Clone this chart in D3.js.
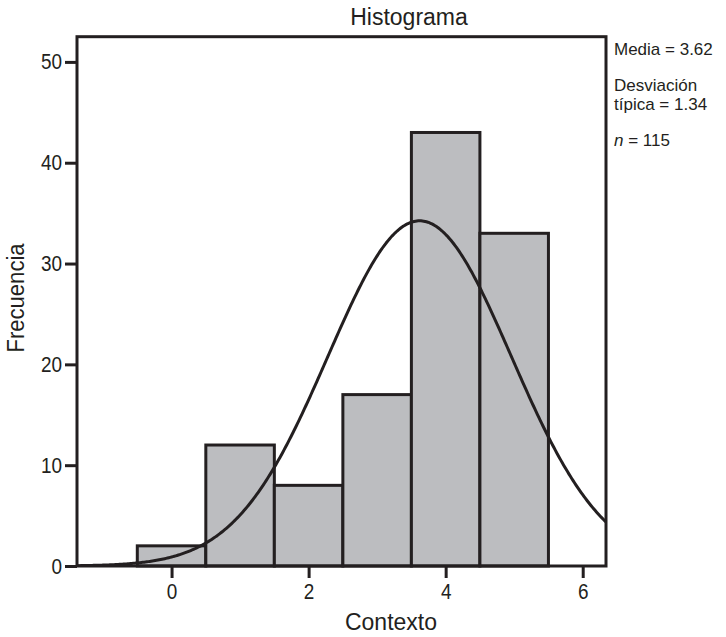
<!DOCTYPE html>
<html>

<head>
    <title>Histograma</title>
    <meta charset="utf-8">
    <style>
        body { margin: 0; background: #fff; }
        .cond { font-family: "Liberation Sans", Arial, sans-serif; fill: #231f20; }
        .stat { font-family: "Liberation Sans", Arial, sans-serif; font-size: 17px; fill: #231f20; }
    </style>
</head>
<script src="https://d3js.org/d3.v7.min.js"></script>

<body>
    <div id="chart"></div>
    <script>
        // Histogram bins (centre value) and counts
        const binCentres = [0, 1, 2, 3, 4, 5];
        const counts = [2, 12, 8, 17, 43, 33];
        const xTicks = [0, 2, 4, 6];
        const yTicks = [0, 10, 20, 30, 40, 50];

        // stats printed on the right, also used for the fitted normal curve
        const media = 3.62;
        const desviacion = 1.34;
        const n = 115;
        const binWidth = 1;

        const W = 726, H = 637;
        const plotL = 77, plotR = 606, plotT = 36.7, plotB = 566;
        const ink = "#231f20";

        const svg = d3.select("#chart").append("svg")
            .attr("width", W)
            .attr("height", H);

        const x = d3.scaleLinear().domain([-1.38, 6.34]).range([plotL, plotR]);
        const y = d3.scaleLinear().domain([0, 52.5]).range([plotB, plotT]);

        // squeeze text horizontally a bit (reference font is a condensed face)
        function condense(sel, f) {
            sel.each(function () {
                const len = this.getComputedTextLength();
                d3.select(this)
                    .attr("textLength", len * f)
                    .attr("lengthAdjust", "spacingAndGlyphs");
            });
        }

        // bars
        svg.append("g")
            .selectAll("rect")
            .data(binCentres)
            .join("rect")
            .attr("x", (d) => x(d - binWidth / 2))
            .attr("width", (d) => x(d + binWidth / 2) - x(d - binWidth / 2))
            .attr("y", (d, i) => y(counts[i]))
            .attr("height", (d, i) => plotB - y(counts[i]))
            .attr("fill", "#bcbdc0")
            .attr("stroke", ink)
            .attr("stroke-width", 3);

        // fitted normal curve
        svg.append("clipPath").attr("id", "clip")
            .append("rect")
            .attr("x", plotL).attr("y", plotT)
            .attr("width", plotR - plotL).attr("height", plotB - plotT);

        const xs = d3.range(x.domain()[0], x.domain()[1] + 0.02, 0.02);
        const normal = (v) => n * binWidth / (desviacion * Math.sqrt(2 * Math.PI)) *
            Math.exp(-0.5 * Math.pow((v - media) / desviacion, 2));

        svg.append("path")
            .datum(xs)
            .attr("clip-path", "url(#clip)")
            .attr("fill", "none")
            .attr("stroke", ink)
            .attr("stroke-width", 3)
            .attr("d", d3.line().x((d) => x(d)).y((d) => y(normal(d))));

        // frame
        svg.append("rect")
            .attr("x", plotL).attr("y", plotT)
            .attr("width", plotR - plotL).attr("height", plotB - plotT)
            .attr("fill", "none")
            .attr("stroke", ink)
            .attr("stroke-width", 3);

        // axes
        const yAxis = svg.append("g")
            .attr("transform", "translate(" + plotL + ",0)")
            .call(d3.axisLeft(y).tickValues(yTicks).tickSize(12).tickPadding(3).tickFormat(d3.format("d")));
        const xAxis = svg.append("g")
            .attr("transform", "translate(0," + plotB + ")")
            .call(d3.axisBottom(x).tickValues(xTicks).tickSize(12).tickPadding(5).tickFormat(d3.format("d")));

        [yAxis, xAxis].forEach(function (g) {
            g.select(".domain").remove();
            g.selectAll("line").attr("stroke", ink).attr("stroke-width", 3);
            g.selectAll("text")
                .attr("class", "cond")
                .style("font-size", "22px")
                .call(condense, 0.86);
        });

        // titles
        svg.append("text")
            .attr("class", "cond")
            .attr("x", 409).attr("y", 25)
            .attr("text-anchor", "middle")
            .style("font-size", "23px")
            .text("Histograma");

        svg.append("text")
            .attr("class", "cond")
            .attr("x", 391).attr("y", 630)
            .attr("text-anchor", "middle")
            .style("font-size", "23px")
            .text("Contexto");

        svg.append("text")
            .attr("class", "cond")
            .attr("transform", "translate(24,298)rotate(-90)")
            .attr("text-anchor", "middle")
            .style("font-size", "23px")
            .text("Frecuencia")
            .call(condense, 0.96);

        // stats box
        const sx = 614;
        svg.append("text").attr("class", "stat").attr("x", sx).attr("y", 55)
            .text("Media = " + media.toFixed(2));
        svg.append("text").attr("class", "stat").attr("x", sx).attr("y", 90.5)
            .text("Desviación");
        svg.append("text").attr("class", "stat").attr("x", sx).attr("y", 110)
            .text("típica = " + desviacion.toFixed(2));
        const nt = svg.append("text").attr("class", "stat").attr("x", sx).attr("y", 146);
        nt.append("tspan").style("font-style", "italic").text("n");
        nt.append("tspan").text(" = " + n);
    </script>
</body>

</html>
